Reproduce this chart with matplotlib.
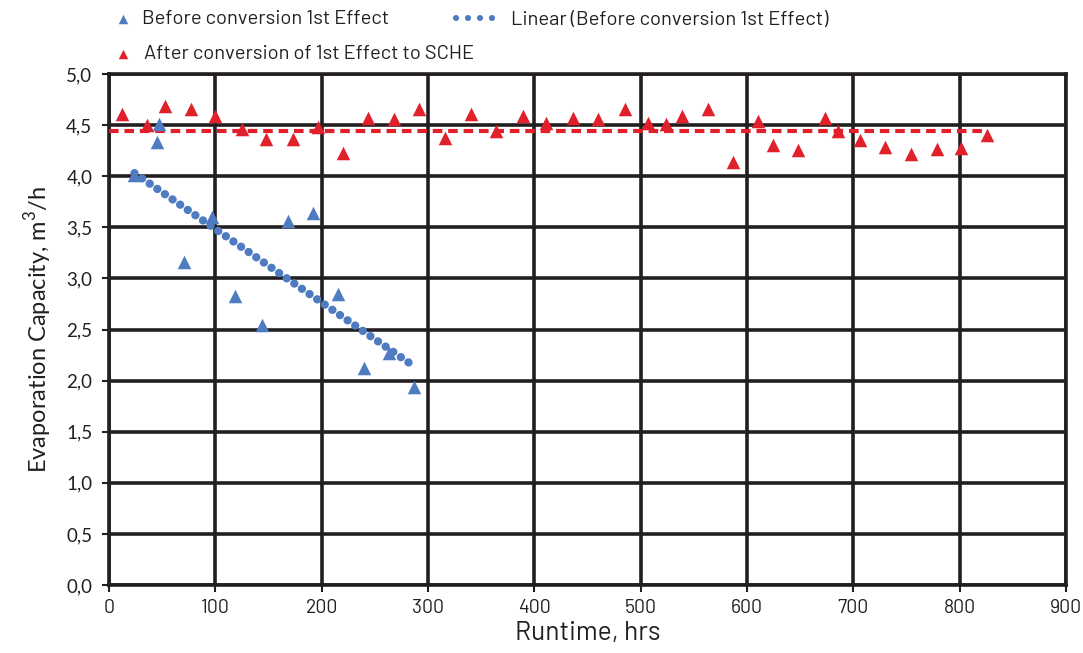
import numpy as np
import matplotlib
matplotlib.use("Agg")
import matplotlib.pyplot as plt
from matplotlib.ticker import FuncFormatter, MultipleLocator

# ---- data ----
before_x = [24, 45, 47, 71, 97, 119, 144, 168, 192, 215, 240, 263, 287]
before_y = [4.01, 4.33, 4.51, 3.16, 3.60, 2.83, 2.54, 3.56, 3.64, 2.85, 2.12, 2.27, 1.94]

# linear trend of "before" as drawn in the reference (end points)
trend_x = [24, 287]
trend_y = [4.03, 2.14]

after_x = [12, 36, 53, 77, 100, 125, 148, 173, 197, 220, 244, 268, 292, 316,
           340, 364, 389, 411, 436, 460, 485, 507, 524, 539, 563, 587,
           610, 624, 648, 673, 686, 706, 730, 754, 779, 801, 826]
after_y = [4.61, 4.50, 4.69, 4.66, 4.59, 4.46, 4.36, 4.36, 4.48, 4.23, 4.57, 4.56, 4.66, 4.37,
           4.61, 4.44, 4.59, 4.52, 4.57, 4.56, 4.66, 4.52, 4.51, 4.59, 4.66, 4.14,
           4.54, 4.31, 4.26, 4.57, 4.44, 4.35, 4.29, 4.22, 4.27, 4.28, 4.40]
after_level = 4.44  # dashed reference level

labels = ["Before conversion 1st Effect",
          "After conversion of 1st Effect to SCHE",
          "Linear (Before conversion 1st Effect)"]
x_label = "Runtime, hrs"
y_label = "Evaporation Capacity, m$^3$/h"

blue = "#4f7cc0"
red = "#e0202b"
dark = "#231f20"

narrow = ["Barlow", "DejaVu Sans"]
wide = ["Lato", "DejaVu Sans"]
plt.rcParams["mathtext.fontset"] = "custom"
plt.rcParams["mathtext.rm"] = "Lato"

fig = plt.figure(figsize=(10.83, 6.53), dpi=100)
ax = fig.add_axes([0.1006, 0.1041, 0.8837, 0.7826])

trend, = ax.plot(trend_x, trend_y, color=blue, lw=6, linestyle=(0, (0.01, 1.1)),
                 dash_capstyle="round", solid_capstyle="round", zorder=3)

ax.plot([0, max(after_x)], [after_level, after_level], color=red, lw=3,
        linestyle=(0, (2.3, 1.4)), dash_capstyle="butt", zorder=3)

sb = ax.scatter(before_x, before_y, marker="^", s=95, color=blue, zorder=4, linewidths=0)
sa = ax.scatter(after_x, after_y, marker="^", s=95, color=red, zorder=4, linewidths=0)

ax.set_xlim(0, 900)
ax.set_ylim(0, 5)
ax.xaxis.set_major_locator(MultipleLocator(100))
ax.yaxis.set_major_locator(MultipleLocator(0.5))
ax.yaxis.set_major_formatter(FuncFormatter(lambda v, p: f"{v:.1f}".replace(".", ",")))

ax.grid(True, color=dark, lw=2.6, zorder=1)
ax.set_axisbelow(True)
for s in ax.spines.values():
    s.set_color(dark)
    s.set_linewidth(2.6)
ax.tick_params(axis="both", direction="out", length=5, width=1.5, color=dark,
               labelcolor=dark)
ax.tick_params(axis="x", labelsize=14, pad=5)
ax.tick_params(axis="y", labelsize=13.5, pad=7)
for t in ax.get_xticklabels():
    t.set_family(narrow)
for t in ax.get_yticklabels():
    t.set_family(wide)

ax.set_xlabel(x_label, fontsize=19, family=narrow, color=dark, labelpad=3)
ax.set_ylabel(y_label, fontsize=17, family=wide, color=dark, labelpad=9)

common = dict(frameon=False, borderpad=0, borderaxespad=0,
              prop={"family": narrow, "size": 14.5})
leg1 = fig.legend([sb], [labels[0]], loc="center left",
                  bbox_to_anchor=(113 / 1083, 1 - 19 / 653),
                  handlelength=1.0, handletextpad=0.45, markerscale=0.7, **common)
leg2 = fig.legend([sa], [labels[1]], loc="center left",
                  bbox_to_anchor=(113 / 1083, 1 - 54 / 653),
                  handlelength=1.0, handletextpad=0.55, markerscale=0.7, **common)
leg3 = fig.legend([trend], [labels[2]], loc="center left",
                  bbox_to_anchor=(456 / 1083, 1 - 20 / 653),
                  handlelength=2.0, handletextpad=0.75, **common)
for lg in (leg1, leg2, leg3):
    for t in lg.get_texts():
        t.set_color(dark)
for h in leg3.legend_handles:
    h.set_linewidth(4.4)
    h.set_linestyle((0, (0.01, 1.95)))
    h.set_dash_capstyle("round")

fig.savefig("out.png", dpi=100)
